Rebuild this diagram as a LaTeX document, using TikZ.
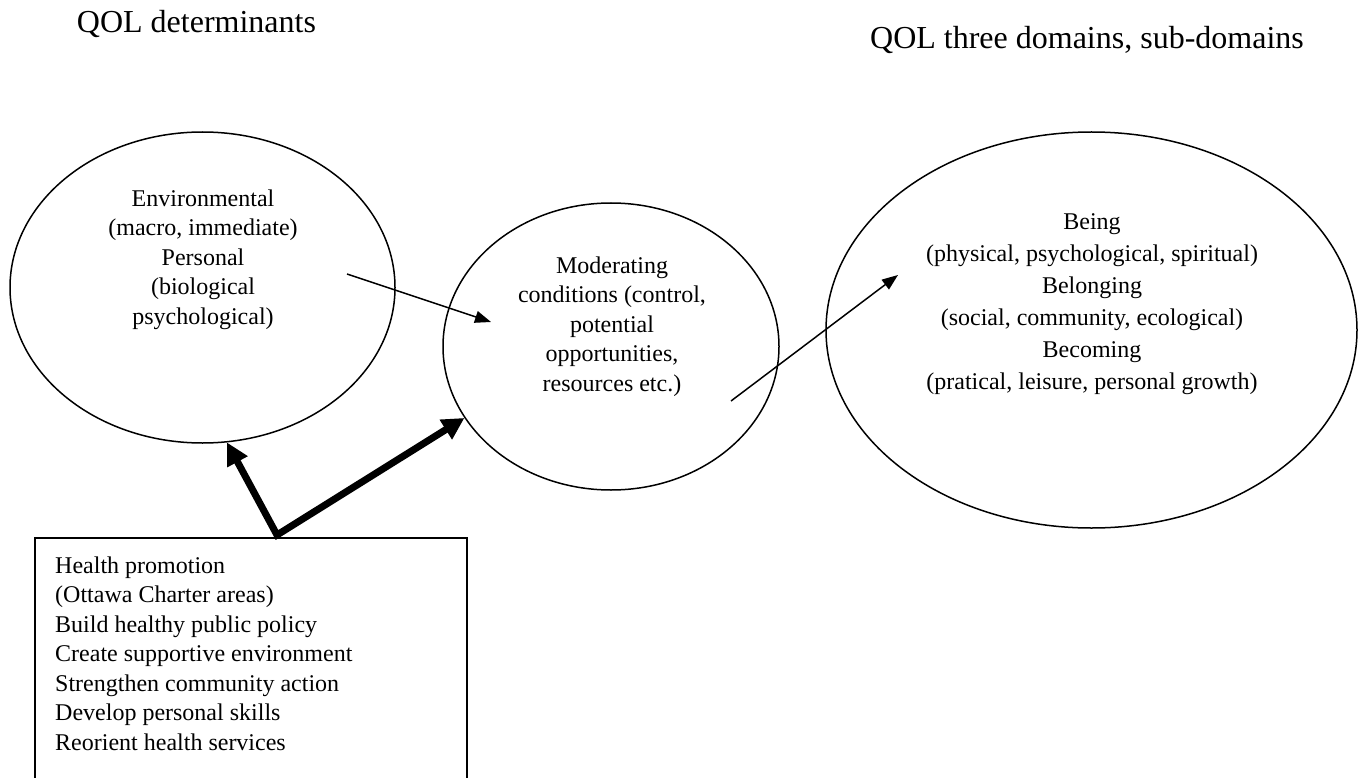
\documentclass[tikz,border=0pt]{standalone}
\usepackage{fontspec}
\setmainfont{Liberation Serif}
\usetikzlibrary{shapes.geometric,arrows.meta}
\begin{document}
\begin{tikzpicture}[x=1pt,y=-1pt,
  oval/.style={draw, line width=1.5pt, ellipse, inner sep=0pt},
  body/.style={font=\fontsize{24}{29.4}\selectfont, align=center, inner sep=0pt},
  title/.style={font=\fontsize{32}{38}\selectfont, inner sep=0pt, anchor=base},
  thinarrow/.style={line width=1.5pt, -{Triangle[length=16pt,width=12pt]}},
  thickarrow/.style={line width=7pt, line join=miter,
    {Triangle[length=22pt,width=22pt]}-{Triangle[length=22pt,width=22pt]}}]
\useasboundingbox (0,0) rectangle (1365,778);
% titles
\node[title] (tl) at (196.5,33) {QOL determinants};
\node[title] (tr) at (1087,49) {QOL three domains, sub-domains};
% ellipses
\node[oval, minimum width=385pt, minimum height=311pt] (e1) at (202.5,287.5) {};
\node[oval, minimum width=336pt, minimum height=287pt] (e2) at (611,346.5) {};
\node[oval, minimum width=531pt, minimum height=396pt] (e3) at (1091.5,330) {};
% texts
\node[body] (t1) at (203,259.5) {Environmental\\(macro, immediate)\\Personal\\(biological\\psychological)};
\node[body] (t2) at (612,326.6) {Moderating\\conditions (control,\\potential\\opportunities,\\resources etc.)};
\node[body, font=\fontsize{24}{32}\selectfont] (t3) at (1092,304) {Being\\(physical, psychological, spiritual)\\Belonging\\(social, community, ecological)\\Becoming\\(pratical, leisure, personal growth)};
% box
\node[minimum width=432pt, minimum height=240pt, inner sep=0pt, anchor=north west] (hpbox) at (35,538) {};
\draw[line width=2pt] (hpbox.south west) |- (hpbox.north east) -- (hpbox.south east);
\node[body, align=left, anchor=west, font=\fontsize{24}{29.5}\selectfont] (hptext) at (55,653.6)
  {Health promotion\\(Ottawa Charter areas)\\Build healthy public policy\\Create supportive environment\\Strengthen community action\\Develop personal skills\\Reorient health services};
% connectors
\coordinate (hp) at (277,535);
\draw[thickarrow] (e1.-81) -- (hp) -- (e2.206);
\coordinate (a1s) at (347,274);
\coordinate (a1e) at (491,322);
\draw[thinarrow] (a1s) -- (a1e);
\coordinate (a2s) at (731,401);
\coordinate (a2e) at (898,275);
\draw[thinarrow] (a2s) -- (a2e);
\end{tikzpicture}
\end{document}
